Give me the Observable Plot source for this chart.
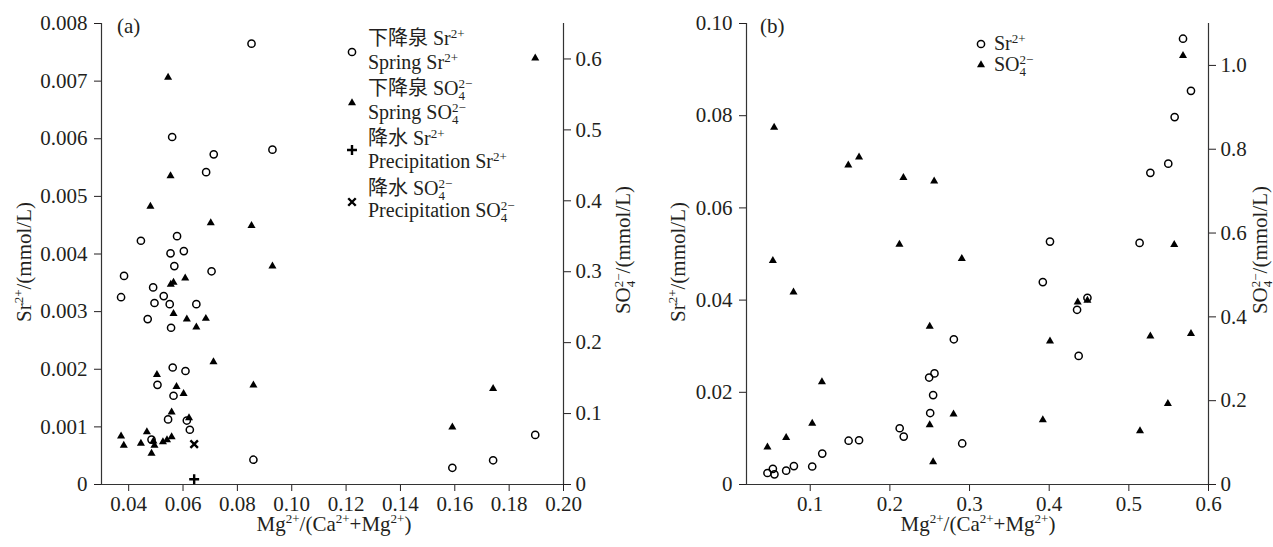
<!DOCTYPE html>
<html>
<head>
<meta charset="utf-8">
<script src="https://cdn.jsdelivr.net/npm/d3@7"></script>
<script src="https://cdn.jsdelivr.net/npm/@observablehq/plot@0.6"></script>
<style>
  body { margin: 0; background: #fff; }
  #wrap { position: relative; width: 1273px; height: 547px; background: #fff; }
  #wrap svg { position: absolute; top: 0; }
  #wrap svg text, #wrap svg g { font-family: 'Liberation Serif', 'Times New Roman', 'Noto Sans CJK SC', serif !important; }
</style>
</head>
<body>
<div id="wrap"></div>
<script>
// ---------- Panel (a) data ----------
const aSrX = [0.0852,0.0560,0.0713,0.0929,0.0685,0.0445,0.0578,0.0554,0.0603,0.0568,0.0705,0.0383,0.0372,0.0490,0.0529,0.0495,0.0551,0.0649,0.0470,0.0556,0.0562,0.0609,0.0506,0.0565,0.0545,0.0614,0.0625,0.0484,0.0859,0.1591,0.1741,0.1896];
const aSrY = [0.00765,0.00603,0.00573,0.00581,0.00542,0.00423,0.00431,0.00401,0.00405,0.00379,0.00370,0.00362,0.00325,0.00342,0.00327,0.00315,0.00313,0.00313,0.00287,0.00272,0.00203,0.00197,0.00173,0.00154,0.00113,0.00111,0.00095,0.00078,0.00043,0.00029,0.00042,0.00086];
const aSO4X = [0.0545,0.0554,0.0480,0.0702,0.0852,0.0929,0.0608,0.0565,0.0555,0.0565,0.0614,0.0684,0.0649,0.0712,0.0504,0.0576,0.0859,0.0602,0.0558,0.0622,0.0372,0.0467,0.0382,0.0445,0.0491,0.0495,0.0484,0.0526,0.0541,0.0558,0.1591,0.1741,0.1896];
const aSO4Y = [0.574,0.435,0.392,0.369,0.365,0.308,0.291,0.285,0.282,0.241,0.233,0.234,0.222,0.173,0.155,0.138,0.140,0.128,0.102,0.094,0.068,0.074,0.055,0.058,0.061,0.055,0.044,0.060,0.063,0.067,0.081,0.135,0.601];
const precipSrX = [0.0641], precipSrY = [0.00009];
const precipSO4X = [0.0641], precipSO4Y = [0.057];

const aXTicks = [0.04,0.06,0.08,0.10,0.12,0.14,0.16,0.18,0.20];
const aSrTicks = [0,0.001,0.002,0.003,0.004,0.005,0.006,0.007,0.008];
const aSO4Ticks = [0,0.1,0.2,0.3,0.4,0.5,0.6];

// ---------- Panel (b) data ----------
const bSrX = [0.568,0.578,0.5575,0.5495,0.527,0.401,0.5135,0.392,0.435,0.448,0.437,0.2803,0.2908,0.2493,0.256,0.2543,0.2506,0.2123,0.2174,0.1482,0.1613,0.1151,0.1025,0.0795,0.0698,0.0463,0.0531,0.0551];
const bSrY = [0.0967,0.0854,0.0797,0.0696,0.0676,0.0527,0.0524,0.0439,0.0379,0.0405,0.0279,0.0315,0.0089,0.0232,0.0241,0.0194,0.0155,0.0122,0.0104,0.0095,0.0096,0.0067,0.0039,0.0040,0.0030,0.0025,0.0034,0.0022];
const bSO4X = [0.0547,0.1478,0.1613,0.217,0.2556,0.212,0.0531,0.2903,0.079,0.250,0.1147,0.1025,0.0698,0.0463,0.250,0.2799,0.2543,0.568,0.557,0.4358,0.448,0.401,0.527,0.578,0.549,0.514,0.392];
const bSO4Y = [0.852,0.762,0.781,0.732,0.724,0.573,0.534,0.539,0.459,0.377,0.245,0.146,0.112,0.089,0.142,0.168,0.054,1.023,0.572,0.435,0.439,0.342,0.354,0.360,0.193,0.128,0.154];

const bXTicks = [0.1,0.2,0.3,0.4,0.5,0.6];
const bSrTicks = [0,0.02,0.04,0.06,0.08,0.10];
const bSO4Ticks = [0,0.2,0.4,0.6,0.8,1.0];

// ---------- helpers ----------
const FONT = "'Liberation Serif', 'Times New Roman', 'Noto Sans CJK SC', serif";
const INK = "#231f20";
const zeroFmt = f => d => d === 0 ? "0" : d3.format(f)(d);
const pts = (xs, ys) => xs.map((x, i) => ({x, y: ys[i]}));

function rich(text, parts, size) {
  let cur = 0;
  const small = Math.round(size * 0.64);
  for (const p of parts) {
    if (typeof p === "string") {
      text.append("tspan").attr("dy", -cur).text(p); cur = 0;
    } else if (p.sup && !p.sub) {
      const off = -size * 0.36;
      text.append("tspan").attr("font-size", small).attr("dy", off - cur).text(p.sup); cur = off;
    } else if (p.sub && p.sup) {
      const o1 = size * 0.24, o2 = -size * 0.34;
      text.append("tspan").attr("font-size", small).attr("dy", o1 - cur).text(p.sub);
      text.append("tspan").attr("font-size", small).attr("dx", -small * 0.5).attr("dy", o2 - o1).text(p.sup);
      cur = o2;
    }
  }
}
function addText(svg, x, y, parts, {size = 21, rotate = false, anchor = "start"} = {}) {
  const t = d3.select(svg).append("text")
    .attr("font-family", FONT).attr("font-size", size).attr("fill", INK)
    .attr("text-anchor", anchor)
    .attr("transform", rotate ? `translate(${x},${y}) rotate(-90)` : `translate(${x},${y})`);
  rich(t, parts, size);
  return t;
}
function addSym(svg, x, y, type, r, {fill = "none", stroke = "#000", sw = 1.5} = {}) {
  d3.select(svg).append("path")
    .attr("d", d3.symbol().type(type).size(Math.PI * r * r)())
    .attr("transform", `translate(${x},${y})`)
    .attr("fill", fill).attr("stroke", stroke).attr("stroke-width", sw);
}

const baseStyle = {fontSize: "21px", background: "transparent", color: INK, overflow: "visible"};
const axisText = {fontSize: 21, fill: INK};
const circleOpts = {symbol: "circle", r: 3.6, stroke: "#000", strokeWidth: 1.5, fill: "none"};
const triOpts = {symbol: "triangle", r: 3.0, fill: "#000", stroke: "none"};

function serifify(svg) {
  d3.select(svg).attr("font-family", FONT).style("font-family", FONT);
  d3.select(svg).selectAll("g, text").attr("font-family", FONT).style("font-family", FONT);
}

function panel({left, width, mL, mR, xDomain, xTicks, xFmt, srDomain, srTicks, srFmt, so4Domain, so4Ticks, so4Fmt, sr, so4, extraSr = [], extraSO4 = []}) {
  const common = {width, height: 547, marginLeft: mL, marginRight: mR, marginTop: 23, marginBottom: 63, style: baseStyle};
  const main = Plot.plot({
    ...common,
    x: {domain: xDomain},
    y: {domain: srDomain},
    marks: [
      Plot.axisX({ticks: xTicks, tickFormat: xFmt, tickSize: 7, tickPadding: 5, label: null, ...axisText}),
      Plot.axisY({ticks: srTicks, tickFormat: srFmt, tickSize: 7, tickPadding: 7, label: null, ...axisText}),
      Plot.ruleX([xDomain[0]], {stroke: "#333", strokeWidth: 1.2}),
      Plot.ruleY([srDomain[0]], {stroke: "#333", strokeWidth: 1.2}),
      Plot.dot(sr, {x: "x", y: "y", ...circleOpts}),
      ...extraSr
    ]
  });
  const over = Plot.plot({
    ...common,
    x: {domain: xDomain, axis: null},
    y: {domain: so4Domain},
    marks: [
      Plot.axisY({anchor: "right", ticks: so4Ticks, tickFormat: so4Fmt, tickSize: 7, tickPadding: 5, label: null, ...axisText}),
      Plot.ruleX([xDomain[1]], {stroke: "#333", strokeWidth: 1.2}),
      Plot.dot(so4, {x: "x", y: "y", ...triOpts}),
      ...extraSO4
    ]
  });
  serifify(main); serifify(over);
  main.style.left = left + "px";
  over.style.left = left + "px";
  const wrap = document.getElementById("wrap");
  wrap.appendChild(main);
  wrap.appendChild(over);
  return over;
}

// ---------- Panel (a) ----------
const svgA = panel({
  left: 0, width: 640, mL: 101, mR: 77,
  xDomain: [0.03, 0.20], xTicks: aXTicks, xFmt: d3.format(".2f"),
  srDomain: [0, 0.008], srTicks: aSrTicks, srFmt: zeroFmt(".3f"),
  so4Domain: [0, 0.65], so4Ticks: aSO4Ticks, so4Fmt: zeroFmt(".1f"),
  sr: pts(aSrX, aSrY), so4: pts(aSO4X, aSO4Y),
  extraSr: [Plot.dot(pts(precipSrX, precipSrY), {x: "x", y: "y", symbol: "plus", r: 3.3, stroke: "#000", strokeWidth: 2.4})],
  extraSO4: [Plot.dot(pts(precipSO4X, precipSO4Y), {x: "x", y: "y", symbol: "times", r: 3.5, stroke: "#000", strokeWidth: 2.4})]
});
addText(svgA, 117, 33, ["(a)"]);
addText(svgA, 334, 531, ["Mg", {sup: "2+"}, "/(Ca", {sup: "2+"}, "+Mg", {sup: "2+"}, ")"], {anchor: "middle"});
addText(svgA, 31, 262, ["Sr", {sup: "2+"}, "/(mmol/L)"], {rotate: true, anchor: "middle"});
addText(svgA, 630, 250, ["SO", {sub: "4", sup: "2−"}, "/(mmol/L)"], {rotate: true, anchor: "middle"});
// legend (a)
addSym(svgA, 352, 52, d3.symbolCircle, 3.6, {sw: 1.5});
addSym(svgA, 352, 103, d3.symbolTriangle, 3.0, {fill: "#000", stroke: "none"});
addSym(svgA, 352, 150, d3.symbolPlus, 3.3, {sw: 2.4});
addSym(svgA, 352, 202, d3.symbolTimes, 3.5, {sw: 2.4});
const LS = 20;
addText(svgA, 368, 45, ["下降泉 Sr", {sup: "2+"}], {size: LS});
addText(svgA, 368, 69, ["Spring Sr", {sup: "2+"}], {size: LS});
addText(svgA, 368, 95, ["下降泉 SO", {sub: "4", sup: "2−"}], {size: LS});
addText(svgA, 368, 119, ["Spring SO", {sub: "4", sup: "2−"}], {size: LS});
addText(svgA, 368, 145, ["降水 Sr", {sup: "2+"}], {size: LS});
addText(svgA, 368, 168, ["Precipitation Sr", {sup: "2+"}], {size: LS});
addText(svgA, 368, 195, ["降水 SO", {sub: "4", sup: "2−"}], {size: LS});
addText(svgA, 368, 217, ["Precipitation SO", {sub: "4", sup: "2−"}], {size: LS});

// ---------- Panel (b) ----------
const svgB = panel({
  left: 640, width: 633, mL: 106, mR: 65,
  xDomain: [0.02, 0.6], xTicks: bXTicks, xFmt: d3.format(".1f"),
  srDomain: [0, 0.10], srTicks: bSrTicks, srFmt: zeroFmt(".2f"),
  so4Domain: [0, 1.1], so4Ticks: bSO4Ticks, so4Fmt: zeroFmt(".1f"),
  sr: pts(bSrX, bSrY), so4: pts(bSO4X, bSO4Y)
});
addText(svgB, 120, 33, ["(b)"]);
addText(svgB, 338, 531, ["Mg", {sup: "2+"}, "/(Ca", {sup: "2+"}, "+Mg", {sup: "2+"}, ")"], {anchor: "middle"});
addText(svgB, 45, 262, ["Sr", {sup: "2+"}, "/(mmol/L)"], {rotate: true, anchor: "middle"});
addText(svgB, 627, 250, ["SO", {sub: "4", sup: "2−"}, "/(mmol/L)"], {rotate: true, anchor: "middle"});
addSym(svgB, 341, 44, d3.symbolCircle, 3.6, {sw: 1.5});
addSym(svgB, 341, 65, d3.symbolTriangle, 3.0, {fill: "#000", stroke: "none"});
addText(svgB, 354, 50, ["Sr", {sup: "2+"}], {size: LS});
addText(svgB, 354, 71, ["SO", {sub: "4", sup: "2−"}], {size: LS});
</script>
</body>
</html>
